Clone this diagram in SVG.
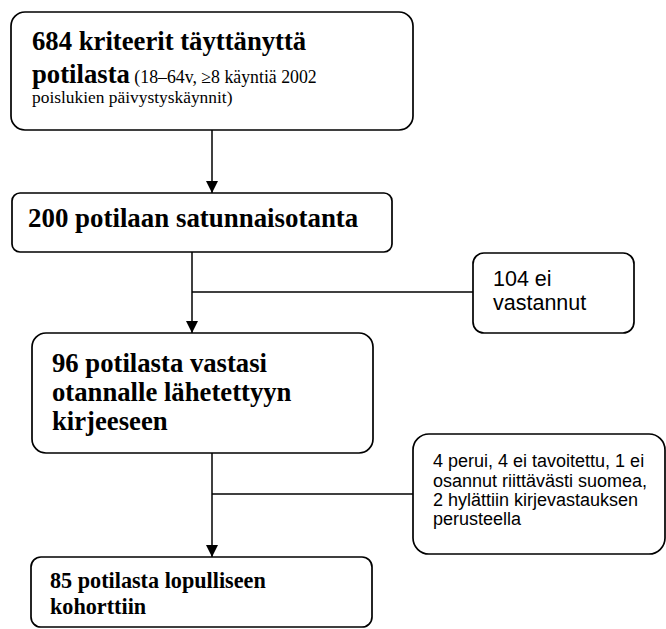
<svg xmlns="http://www.w3.org/2000/svg" width="666" height="629" viewBox="0 0 666 629">
<style>
.box{fill:#fff;stroke:#000;stroke-width:1.7}
.line{fill:none;stroke:#000;stroke-width:1.5}
.serif{font-family:"Liberation Serif","Times New Roman",serif;fill:#000}
.b{font-weight:bold}
.sans{font-family:"Liberation Sans",Arial,sans-serif;fill:#000}
</style>
<defs>
<marker id="arr" markerWidth="12" markerHeight="12" refX="12" refY="6" orient="auto" markerUnits="userSpaceOnUse">
<path d="M0,0 L12,6 L0,12 Z" fill="#000"/>
</marker>
</defs>
<rect width="666" height="629" fill="#fff"/>
<g id="connectors">
<line class="line" x1="212" y1="130" x2="212" y2="193" marker-end="url(#arr)"/>
<line class="line" x1="192" y1="252" x2="192" y2="333" marker-end="url(#arr)"/>
<line class="line" x1="192" y1="292" x2="473" y2="292"/>
<line class="line" x1="212" y1="453" x2="212" y2="557" marker-end="url(#arr)"/>
<line class="line" x1="212" y1="494" x2="413" y2="494"/>
</g>
<g id="n1">
<rect class="box" x="11" y="12" width="402" height="118" rx="14"/>
<text class="serif b" x="32" y="50" font-size="26.7">684 kriteerit täyttänyttä</text>
<text class="serif" x="32" y="83"><tspan class="b" font-size="26.7">potilasta</tspan><tspan font-size="17.8"> (18–64v, ≥8 käyntiä 2002</tspan></text>
<text class="serif" x="32" y="103" font-size="17.4">poislukien päivystyskäynnit)</text>
</g>
<g id="n2">
<rect class="box" x="12" y="193" width="380" height="59" rx="8"/>
<text class="serif b" x="28" y="227" font-size="26.9">200 potilaan satunnaisotanta</text>
</g>
<g id="n3">
<rect class="box" x="473" y="253" width="161" height="80" rx="11"/>
<text class="sans" x="493" y="286" font-size="21.5">104 ei</text>
<text class="sans" x="493" y="310" font-size="21.5">vastannut</text>
</g>
<g id="n4">
<rect class="box" x="32" y="333" width="341" height="120" rx="14"/>
<text class="serif b" x="52" y="372" font-size="26.7">96 potilasta vastasi</text>
<text class="serif b" x="52" y="401" font-size="26.7">otannalle lähetettyyn</text>
<text class="serif b" x="52" y="430" font-size="26.7">kirjeeseen</text>
</g>
<g id="n5">
<rect class="box" x="413" y="434" width="252" height="120" rx="16"/>
<text class="sans" x="433" y="467" font-size="18">4 perui, 4 ei tavoitettu, 1 ei</text>
<text class="sans" x="433" y="486.5" font-size="18">osannut riittävästi suomea,</text>
<text class="sans" x="433" y="505.8" font-size="18">2 hylättiin kirjevastauksen</text>
<text class="sans" x="433" y="525" font-size="18">perusteella</text>
</g>
<g id="n6">
<rect class="box" x="31" y="557" width="341" height="70" rx="10"/>
<text class="serif b" x="50" y="588" font-size="22.2">85 potilasta lopulliseen</text>
<text class="serif b" x="50" y="614" font-size="22.2">kohorttiin</text>
</g>
</svg>
